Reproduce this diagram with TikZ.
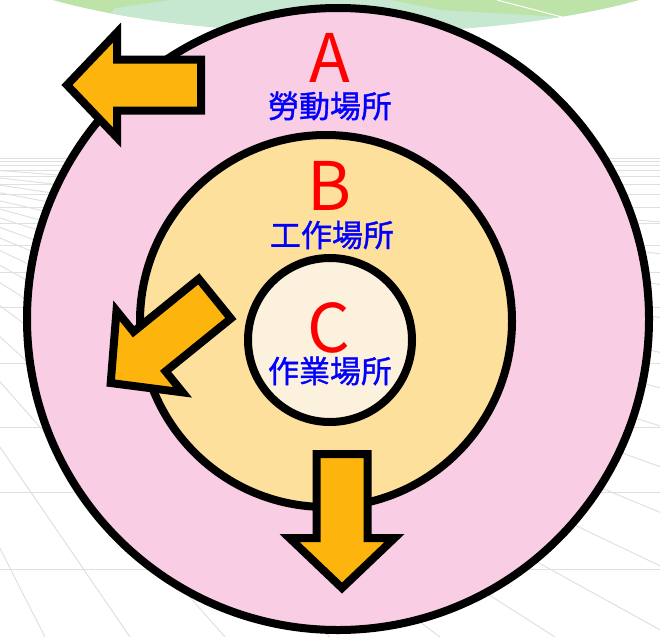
\documentclass[tikz,border=0pt]{standalone}
\usepackage{fontspec}
\setmainfont{Noto Sans CJK TC}
\newfontfamily\placefont[FakeBold=1.2]{Noto Sans CJK TC}
\definecolor{ringA}{HTML}{F9CDE4}
\definecolor{ringB}{HTML}{FEE09D}
\definecolor{ringC}{HTML}{FCF1DD}
\definecolor{arroworange}{HTML}{FDB50D}
\definecolor{leafdark}{HTML}{BDE3A9}
\definecolor{leaflight}{HTML}{C6E8D1}
\definecolor{gridgray}{HTML}{E0E0E0}
\tikzset{
  ring/.style={draw=black,line width=8pt},
  bigletter/.style={text=red,font=\fontsize{67}{67}\selectfont,inner sep=0pt,anchor=base},
  placename/.style={text=blue,font=\placefont\fontsize{31}{31}\selectfont,inner sep=0pt},
  arrowbody/.style={fill=arroworange,draw=black,line width=8pt,line join=miter},
  gridline/.style={draw=gridgray,line width=1pt}
}
\newcommand{\drawarrow}[3]{
\begin{scope}[shift={(#1,#2)},rotate=#3]
	\draw[arrowbody] (0,0) -- (50,52.5) -- (50,25.5) -- (134,25.5) -- (134,-25.5) -- (50,-25.5) -- (50,-52.5) -- cycle;
\end{scope}
}
\begin{document}
\begin{tikzpicture}[x=1pt,y=-1pt]
	\useasboundingbox (0,0) rectangle (660,637);
	\begin{scope}
		\clip (0,0) rectangle (660,637);
		% Nền lưới
		\foreach \yy in {158,161,165,170,176,184,194,207,223,245,272,307,363,427,492,569}
			\draw[gridline] (0,\yy) -- (660,\yy);
		\foreach \xb in {45,130,225,330,440,555,673,809,960,1130,1330,1580,1900,2350,3000,4000,6000}
			\draw[gridline] (-200,155) -- (\xb,637);
		% Lá xanh
		\fill[leafdark] (346,-67) ellipse [x radius=395, y radius=100];
		\begin{scope}
			\clip (346,-67) ellipse [x radius=395, y radius=100];
			\fill[leaflight] (90,40) -- (115,8) -- (185,-2) -- (380,-2) -- (440,10) -- (560,17) -- (600,60) -- cycle;
		\end{scope}
		\draw[white,line width=1pt] (497,0) -- (562,17);
	\end{scope}
	% Ba vòng tròn
	\draw[ring,fill=ringA] (338,319) circle [radius=311];
	\draw[ring,fill=ringB] (326,321) circle [radius=186];
	\draw[ring,fill=ringC] (330,340) circle [radius=82];
	% Mũi tên
	\drawarrow{67}{85}{0}
	\drawarrow{110.7}{383}{39}
	\drawarrow{342}{588}{90}
	% Chữ
	\node[bigletter] (letterA) at (330,82) {A};
	\node[placename] (placeA) at (330,106) {勞動場所};
	\node[bigletter] (letterB) at (330,210) {B};
	\node[placename] (placeB) at (332,235) {工作場所};
	\node[bigletter] (letterC) at (329,352) {C};
	\node[placename] (placeC) at (330,371) {作業場所};
\end{tikzpicture}
\end{document}
